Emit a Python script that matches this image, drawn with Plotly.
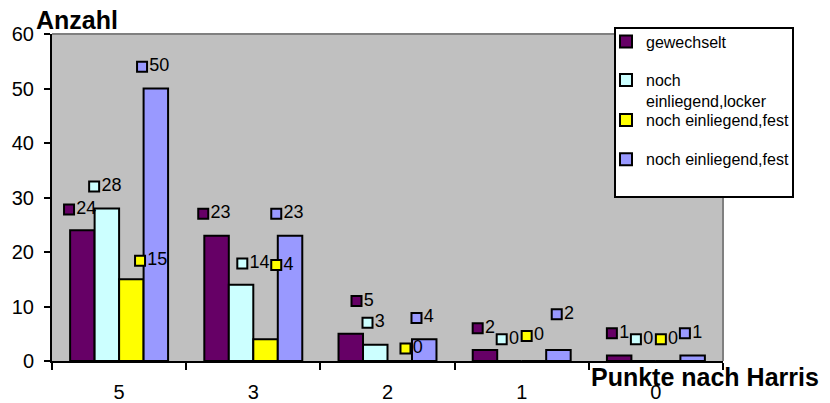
import plotly.graph_objects as go

# ---------------- data ----------------
categories = ["5", "3", "2", "1", "0"]
series_names = ["gewechselt", "noch<br>einliegend,locker", "noch einliegend,fest", "noch einliegend,fest"]
gewechselt = [24, 23, 5, 2, 1]
einliegend_locker = [28, 14, 3, 0, 0]
einliegend_fest = [15, 4, 0, 0, 0]
einliegend_fest_2 = [50, 23, 4, 2, 1]
y_ticks = [0, 10, 20, 30, 40, 50, 60]

series_values = [gewechselt, einliegend_locker, einliegend_fest, einliegend_fest_2]
colors = ["#660066", "#CCFFFF", "#FFFF00", "#9999FF"]

# label placement styles (offsets from category centre / above bar top)
label_dx = [
    [-0.373, -0.373, -0.231, -0.328, -0.328],
    [-0.186, -0.082, -0.149, -0.149, -0.149],
    [0.156, 0.171, 0.134, 0.037, 0.037],
    [0.171, 0.171, 0.216, 0.261, 0.216],
]
label_dy = [
    [3.8, 4.0, 6.0, 4.0, 4.1],
    [4.0, 3.9, 4.0, 4.0, 4.0],
    [3.4, 13.6, 2.3, 4.6, 4.0],
    [4.0, 4.0, 3.9, 6.6, 4.1],
]

W, H = 830, 403
ML, MR, MT, MB = 52, 107, 34, 42
PW, PH = W - ML - MR, H - MT - MB


def px_x(px):
    return (px - ML) / PW


def px_y(py):
    return (H - MB - py) / PH


FONT = "Arial, Liberation Sans, sans-serif"
idx = list(range(len(categories)))
legend_ids = ["legend", "legend2", "legend3", "legend4"]

fig = go.Figure()
for s, (name, vals, col) in enumerate(zip(series_names, series_values, colors)):
    fig.add_trace(go.Bar(
        x=idx, y=vals, name=name,
        marker=dict(color=col, line=dict(color="black", width=2)),
        legend=legend_ids[s],
    ))

for s, (vals, col) in enumerate(zip(series_values, colors)):
    fig.add_trace(go.Scatter(
        x=[i + label_dx[s][i] for i in idx],
        y=[v + label_dy[s][i] for i, v in enumerate(vals)],
        mode="markers+text",
        text=[str(v) for v in vals],
        textposition="middle right",
        textfont=dict(family=FONT, size=18, color="black"),
        marker=dict(symbol="square", size=10, color=col, line=dict(color="black", width=2)),
        showlegend=False, cliponaxis=False, hoverinfo="skip",
    ))

legend_centers = [41.7, 80, 120, 159.3]
legend_common = dict(
    xref="container", yref="container", x=606 / W, xanchor="left", yanchor="top",
    bgcolor="rgba(0,0,0,0)", borderwidth=0, valign="top",
    font=dict(family=FONT, size=16, color="black"),
)
legend_layout = {}
for k, lid in enumerate(legend_ids):
    legend_layout[lid] = dict(legend_common, y=1 - (legend_centers[k] - 17) / H)

fig.update_layout(
    width=W, height=H,
    margin=dict(l=ML, r=MR, t=MT, b=MB, autoexpand=False),
    paper_bgcolor="white", plot_bgcolor="#C0C0C0",
    barmode="group", bargap=0.27, bargroupgap=0,
    font=dict(family=FONT, color="black"),
    showlegend=True,
    **legend_layout,
    xaxis=dict(
        range=[-0.5, len(categories) - 0.5], automargin=False,
        tickmode="array", tickvals=idx, ticktext=categories,
        ticks="", tickfont=dict(size=20, family=FONT, color="black"),
        ticklabelstandoff=12,
        showline=True, linecolor="black", linewidth=2,
        showgrid=False, zeroline=False,
        minor=dict(tickmode="array", tickvals=[i - 0.5 for i in range(len(categories) + 1)],
                   ticks="outside", ticklen=7, tickwidth=2, tickcolor="black", showgrid=False),
    ),
    yaxis=dict(
        range=[0, 60], tickmode="array", tickvals=y_ticks, automargin=False,
        ticks="outside", ticklen=6, tickwidth=2, tickcolor="black",
        tickfont=dict(size=20, family=FONT, color="black"),
        ticklabelstandoff=6,
        showline=True, linecolor="black", linewidth=2,
        showgrid=False, zeroline=False,
    ),
    shapes=[
        dict(type="line", xref="paper", yref="paper", x0=0, x1=1, y0=1, y1=1,
             line=dict(color="#808080", width=2), layer="below"),
        dict(type="line", xref="paper", yref="paper", x0=1, x1=1, y0=0, y1=1,
             line=dict(color="#808080", width=2), layer="below"),
        dict(type="rect", xref="paper", yref="paper",
             x0=px_x(615), x1=px_x(793), y0=px_y(197), y1=px_y(28),
             fillcolor="white", line=dict(color="black", width=2), layer="above"),
    ],
    annotations=[
        dict(text="<b>Anzahl</b>", xref="paper", yref="paper", x=px_x(34), y=px_y(20),
             xanchor="left", yanchor="middle", showarrow=False,
             font=dict(family=FONT, size=25, color="black")),
        dict(text="<b>Punkte nach Harris</b>", xref="paper", yref="paper", x=px_x(589), y=px_y(377),
             xanchor="left", yanchor="middle", showarrow=False,
             font=dict(family=FONT, size=25, color="black")),
    ],
)

fig.write_html(
    "out.html",
    config={"displayModeBar": False},
    post_script="document.body.style.margin='0';document.body.style.padding='0';",
)
